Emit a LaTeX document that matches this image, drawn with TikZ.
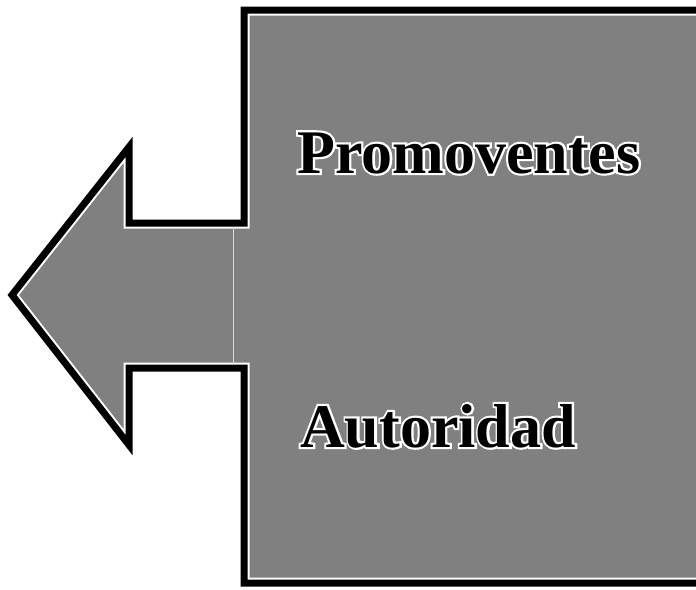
\documentclass[tikz,border=0pt]{standalone}
\usepackage{fontspec}
\setmainfont{Liberation Serif}
\newfontfamily\halofont[FakeBold=7]{Liberation Serif Bold}
\newcommand\haloedtext[1]{\rlap{{\halofont\textcolor{white}{#1}}}#1}
\begin{document}
\begin{tikzpicture}[x=1pt,y=-1pt,
  lbl/.style={anchor=base west,inner sep=0pt,font=\fontsize{62}{70}\selectfont\bfseries},
  panelfill/.style={fill=black!50},
  panelrim/.style={draw=black,line width=7pt,line join=miter},
  panelgap/.style={draw=white,line width=11pt,line join=miter}]
\useasboundingbox (0,0) rectangle (696,589);
% outline points of the panel + left arrow
\coordinate (r1) at (244,10);
\coordinate (r2) at (712,10);
\coordinate (r3) at (712,583);
\coordinate (r4) at (244,583);
\coordinate (s1) at (244,368);
\coordinate (s2) at (129,368);
\coordinate (h1) at (129,445);
\coordinate (tip) at (12,295);
\coordinate (h2) at (129,147);
\coordinate (s3) at (129,223);
\coordinate (s4) at (244,223);
\begin{scope}
  \clip (r1) -- (r2) -- (r3) -- (r4) -- (s1) -- (s2) -- (h1) -- (tip) -- (h2) -- (s3) -- (s4) -- cycle;
  \fill[panelfill] (r1) -- (r2) -- (r3) -- (r4) -- (s1) -- (s2) -- (h1) -- (tip) -- (h2) -- (s3) -- (s4) -- cycle;
  \draw[panelgap] (r1) -- (r2) -- (r3) -- (r4) -- (s1) -- (s2) -- (h1) -- (tip) -- (h2) -- (s3) -- (s4) -- cycle;
\end{scope}
\draw[panelrim] (r1) -- (r2) -- (r3) -- (r4) -- (s1) -- (s2) -- (h1) -- (tip) -- (h2) -- (s3) -- (s4) -- cycle;
% seam where the arrow joins the panel
\coordinate (seamA) at (233,227);
\coordinate (seamB) at (233,364);
\draw[white!85!black,line width=1pt] (seamA) -- (seamB);
% labels with white outline
\node[lbl] (promo) at (297,173) {\haloedtext{Promoventes}};
\node[lbl] (auto) at (300,447) {\haloedtext{Autoridad}};
\end{tikzpicture}
\end{document}
